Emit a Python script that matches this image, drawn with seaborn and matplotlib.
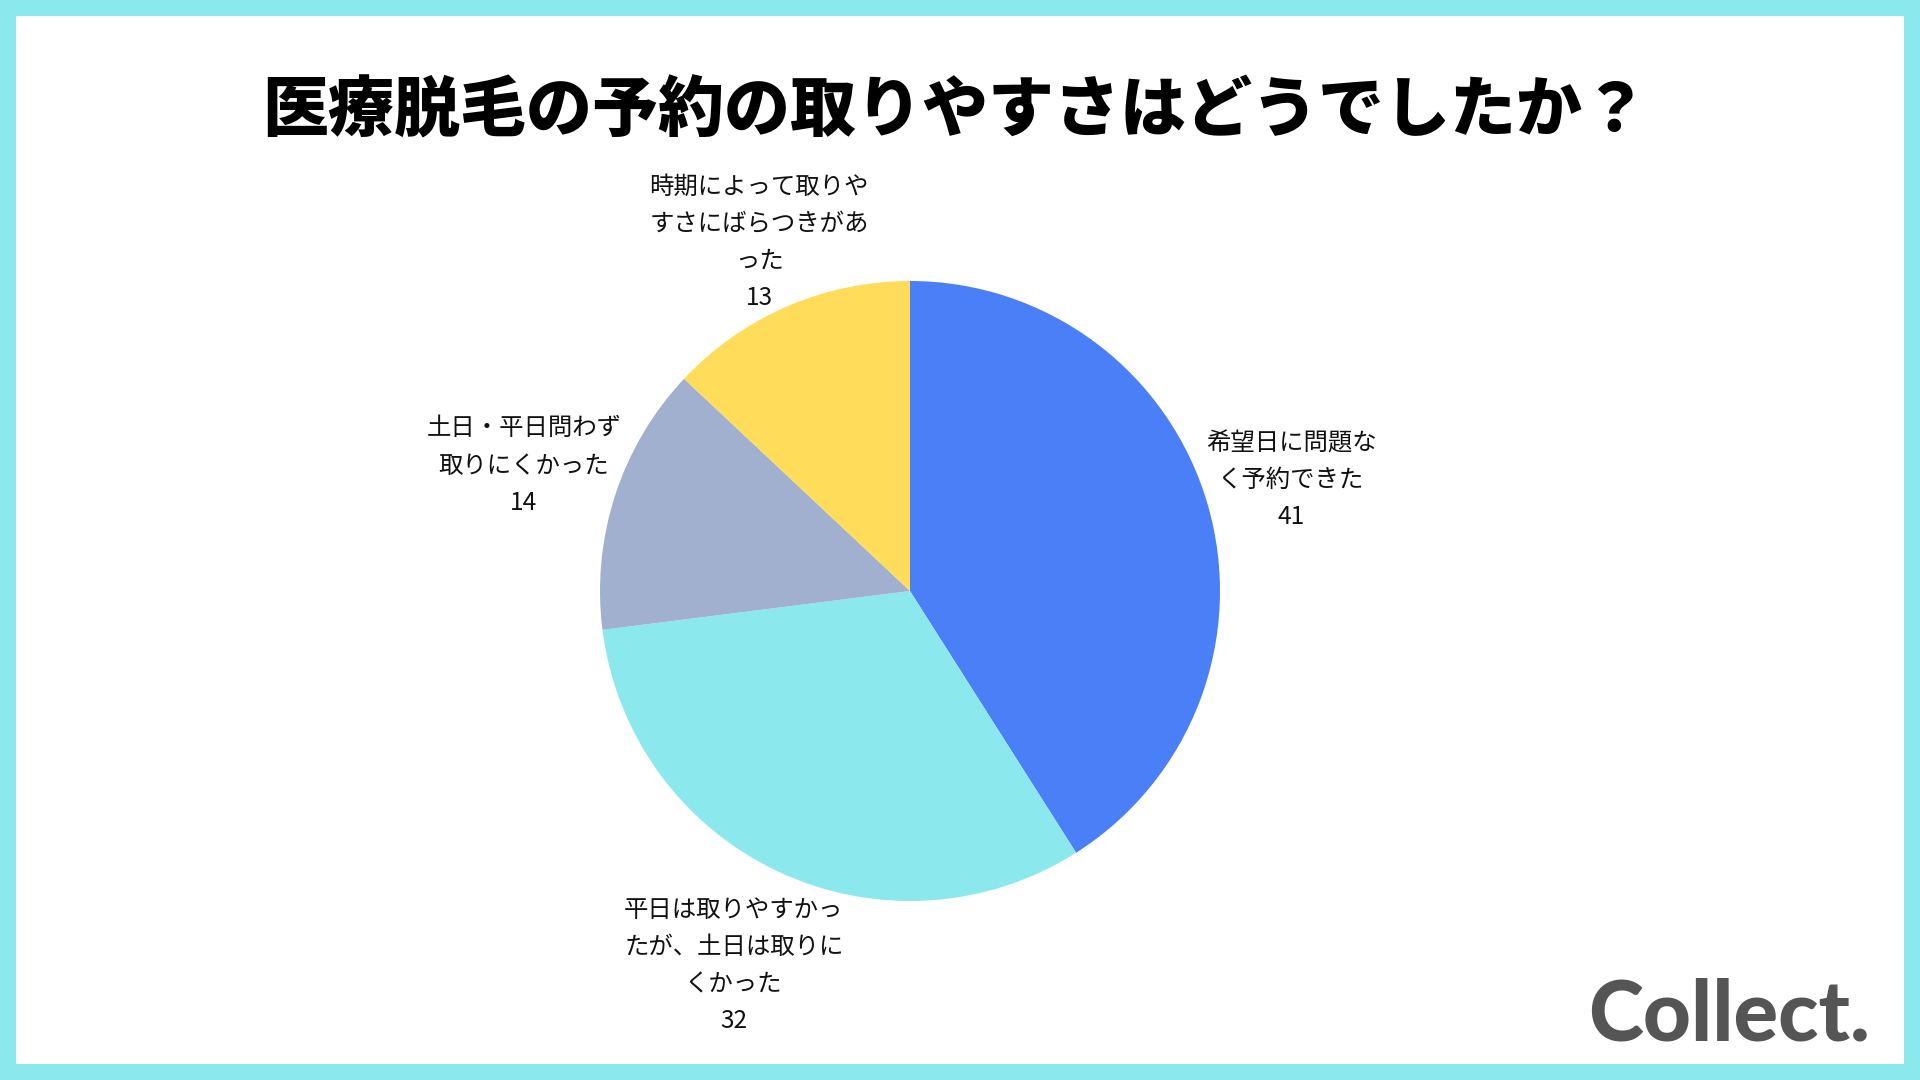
import matplotlib
matplotlib.use("Agg")
import matplotlib.pyplot as plt
import numpy as np
import seaborn as sns
from matplotlib.patches import Rectangle

# データ
categories = [
    "希望日に問題な\nく予約できた",
    "平日は取りやすかっ\nたが、土日は取りに\nくかった",
    "土日・平日問わず\n取りにくかった",
    "時期によって取りや\nすさにばらつきがあ\nった",
]
counts = [41, 32, 14, 13]
colors = ["#4A7FF7", "#8BE9ED", "#A0B0CE", "#FFDD5A"]
title = "医療脱毛の予約の取りやすさはどうでしたか？"

# ラベルの中心までの距離（半径比）
label_dist = [1.28, 1.335, 1.31, 1.225]

sns.set_theme(style="white")
plt.rcParams["font.family"] = ["Noto Sans CJK JP", "DejaVu Sans"]

W, H = 1920, 1080
fig = plt.figure(figsize=(W / 100, H / 100), dpi=100)
fig.patch.set_facecolor("#8BE9ED")

# 白い背景（枠線を残す）
border = 16
fig.patches.append(Rectangle((border / W, border / H), 1 - 2 * border / W, 1 - 2 * border / H,
                             transform=fig.transFigure, facecolor="white", edgecolor="none", zorder=-10))

# 円グラフの位置 (中心 910,591 / 半径 310px)
cx, cy, r = 910, H - 591, 310
span = 1.5
side = 2 * span * r
ax = fig.add_axes([(cx - side / 2) / W, (cy - side / 2) / H, side / W, side / H])
ax.set_facecolor("none")
ax.set_zorder(1)

labels = [f"{c}\n{v}" for c, v in zip(categories, counts)]
wedges, texts = ax.pie(
    counts,
    labels=labels,
    colors=colors,
    startangle=90,
    counterclock=False,
    wedgeprops=dict(edgecolor="none"),
    textprops=dict(fontsize=17.6, color="#111111", linespacing=1.56),
)
for w, t, d in zip(wedges, texts, label_dist):
    ang = np.deg2rad((w.theta1 + w.theta2) / 2)
    t.set_position((d * np.cos(ang), d * np.sin(ang)))
    t.set_horizontalalignment("center")
    t.set_verticalalignment("center")

ax.set_xlim(-span, span)
ax.set_ylim(-span, span)
ax.set_aspect("equal")
ax.axis("off")

fig.text(955 / W, 1 - 112 / H, title, ha="center", va="center",
         fontsize=47.5, fontweight="black", color="#000000")

fig.text(1870 / W, 1 - 1016 / H, "Collect.", ha="right", va="center",
         fontsize=60, fontweight="black", color="#555555", family=["Lato", "DejaVu Sans"])

fig.savefig("out.png", dpi=100, facecolor=fig.get_facecolor())
